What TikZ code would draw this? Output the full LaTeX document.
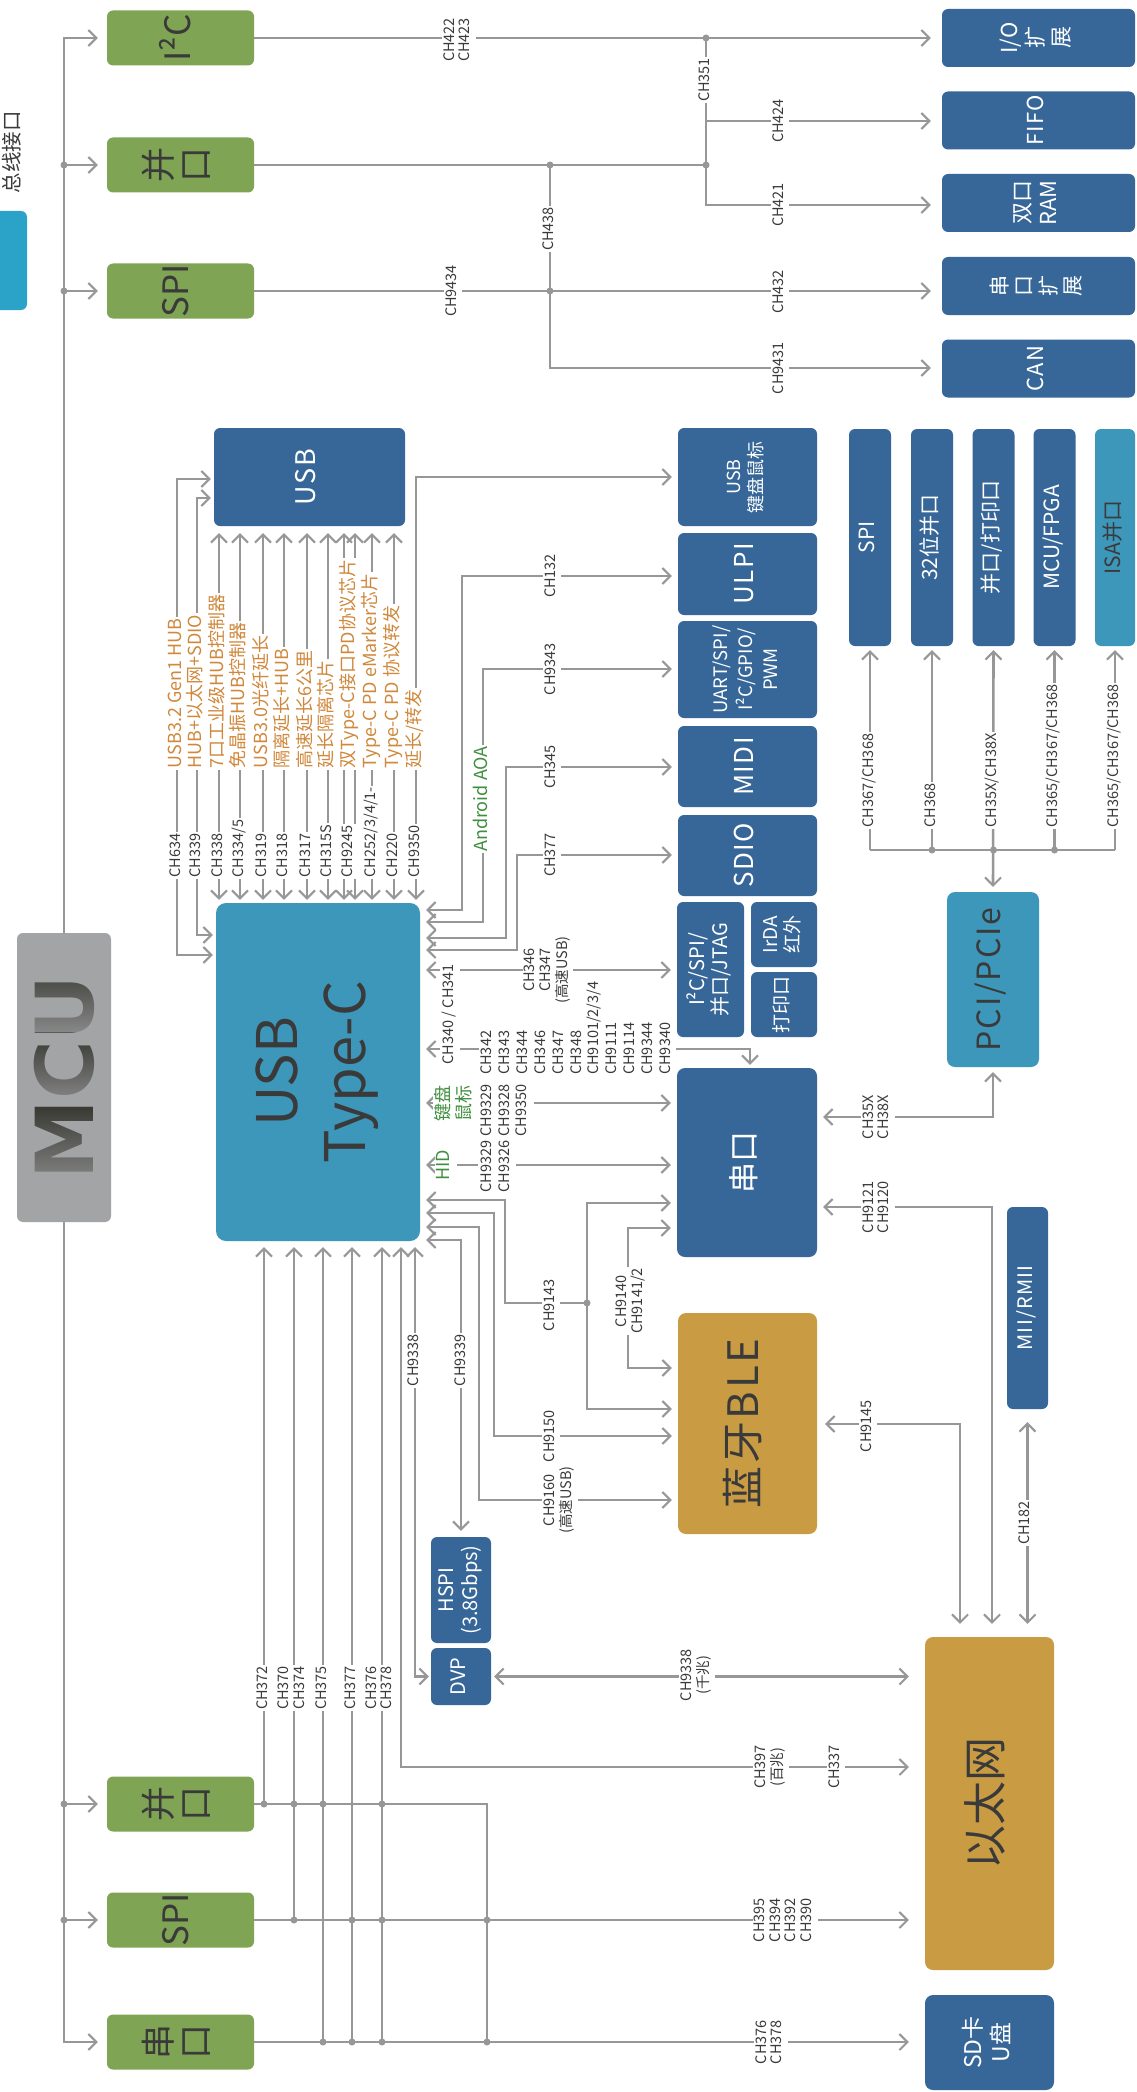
\documentclass[tikz,border=0pt]{standalone}
\usepackage{fontspec}
\setmainfont{Noto Sans CJK SC}
\newfontfamily\spc{Noto Sans CJK SC}[LetterSpace=6]
\newfontfamily\mcufont{DejaVu Sans Bold}
\usetikzlibrary{arrows.meta,backgrounds,fadings}

\definecolor{linegray}{HTML}{979797}
\definecolor{busgreen}{HTML}{7FA454}
\definecolor{chipblue}{HTML}{366798}
\definecolor{chipteal}{HTML}{3D97BA}
\definecolor{legendblue}{HTML}{2BA3C8}
\definecolor{chipgold}{HTML}{C99C44}
\definecolor{mcugray}{HTML}{A3A4A6}
\definecolor{mcutext}{HTML}{35352F}
\definecolor{darktext}{HTML}{3A3A3A}
\definecolor{hubtext}{HTML}{D0883C}
\definecolor{hidgreen}{HTML}{3F8F3F}

\newcommand\fs[2]{\fontsize{#1}{#2}\selectfont}
\newcommand\rt[1]{\rotatebox{90}{\begin{tabular}{@{}c@{}}#1\end{tabular}}}
\newcommand\rtl[1]{\rotatebox{90}{\begin{tabular}{@{}l@{}}#1\end{tabular}}}

\tikzset{
  barb/.tip={Straight Barb[length=8pt,width=16pt,line width=2pt]},
  ln/.style={draw=linegray, line width=2.6pt},
  ar/.style={ln, -barb, shorten >=6pt},
  dar/.style={ln, barb-barb, shorten >=6pt, shorten <=6pt},
  ra/.style={ln, barb-, shorten <=6pt},
  junc/.style={circle, fill=linegray, inner sep=0pt, minimum size=7pt},
  chip/.style={rounded corners=6pt, inner sep=0pt},
  bluechip/.style={chip, fill=chipblue, text=white},
  tealchip/.style={chip, fill=chipteal, text=darktext},
  goldchip/.style={chip, fill=chipgold, text=darktext},
  gbox/.style={chip, fill=busgreen, text=darktext, font=\fs{35}{37}, minimum width=147pt, minimum height=55pt},
  rbox/.style={bluechip, minimum width=193pt, minimum height=58pt},
  cbox/.style={bluechip, minimum width=139pt},
  tall/.style={bluechip, minimum width=42pt, minimum height=217pt, font=\fs{21}{23}},
  lbl/.style={fill=white, inner sep=1.5pt, text=darktext, font=\fs{14.5}{15.5}},
  hub/.style={fill=white, inner sep=1.5pt, text=hubtext, font=\fs{18}{20}},
  aoa/.style={fill=white, inner sep=1.5pt, text=hidgreen, font=\fs{18}{19}}
}

\begin{document}
\begin{tikzpicture}[x=1pt,y=-1pt]
\useasboundingbox (0,0) rectangle (1136,2092);

% Legende
\node[chip, fill=legendblue, minimum width=36pt, minimum height=99pt] (legend) at (9,260.5) {};
\node[text=darktext, inner sep=0pt, font=\fs{20.5}{22}] (legendtxt) at (14,152.5) {\rt{总线接口}};

% MCU und Busschnittstellen
\node[chip, fill=mcugray, minimum width=94pt, minimum height=289pt, text=mcutext, font=\mcufont\fs{80}{80}] (mcu) at (64,1077.5) {\rotatebox{90}{MCU}};
\foreach \ya/\yb in {960/1032, 1032/1102, 1102/1184}
  \fill[mcugray, opacity=0.75, path fading=north] (26,\ya) rectangle (102,\yb);
\node[gbox] (i2c) at (180.5,38) {\rt{I²C}};
\node[gbox] (par1) at (180.5,165) {\rt{并\\口}};
\node[gbox] (spi1) at (180.5,291) {\rt{SPI}};
\node[gbox] (par2) at (180.5,1804) {\rt{并\\口}};
\node[gbox] (spi2) at (180.5,1920) {\rt{SPI}};
\node[gbox] (uart2) at (180.5,2042) {\rt{串\\口}};

% Erweiterungen oben rechts
\node[rbox, font=\fs{22}{26}] (io) at (1038.5,38) {\rt{I/O\\扩\\展}};
\node[rbox, font=\spc\fs{22}{24}] (fifo) at (1038.5,120.5) {\rt{FIFO}};
\node[rbox, font=\fs{22}{26}] (ram) at (1038.5,203) {\rt{双口\\RAM}};
\node[rbox, font=\fs{21}{24}] (uex) at (1038.5,286) {\rt{串\\口\\扩\\展}};
\node[rbox, font=\spc\fs{22}{24}] (can) at (1038.5,368.5) {\rt{CAN}};

% USB
\node[bluechip, minimum width=191pt, minimum height=98pt, font=\spc\fs{27}{29}] (usb) at (309.5,477) {\rt{USB}};
\node[tealchip, rounded corners=10pt, minimum width=204pt, minimum height=338pt, font=\fs{56}{68}] (tc) at (318,1072) {\rt{USB\\Type-C}};

% rechte Spalte
\node[cbox, minimum height=98pt, font=\fs{18}{22}] (kbd) at (747.5,477) {\rt{USB\\键盘鼠标}};
\node[cbox, minimum height=82pt, font=\spc\fs{26}{28}] (ulpi) at (747.5,574) {\rt{ULPI}};
\node[cbox, minimum height=97pt, font=\fs{18.5}{25}] (uart) at (747.5,669.5) {\rt{UART/SPI/\\I²C/GPIO/\\PWM}};
\node[cbox, minimum height=81pt, font=\spc\fs{26}{28}] (midi) at (747.5,766.5) {\rt{MIDI}};
\node[cbox, minimum height=81pt, font=\spc\fs{26}{28}] (sdio) at (747.5,855.5) {\rt{SDIO}};
\node[bluechip, minimum width=67pt, minimum height=135pt, font=\fs{20}{22}] (i2cb) at (710.5,969.5) {\rt{I²C/SPI/\\并口/JTAG}};
\node[bluechip, minimum width=66pt, minimum height=65pt, font=\fs{19}{22}] (irda) at (784,934.5) {\rt{IrDA\\红外}};
\node[bluechip, minimum width=66pt, minimum height=65pt, font=\fs{19}{22}] (prt) at (784,1004.5) {\rt{打印口}};
\node[bluechip, rounded corners=8pt, minimum width=140pt, minimum height=189pt, font=\fs{31}{33}] (serial) at (747,1162.5) {\rt{串口}};
\node[goldchip, rounded corners=8pt, minimum width=139pt, minimum height=221pt, font=\spc\fs{42}{44}] (ble) at (747.5,1423.5) {\rt{蓝牙BLE}};

% parallele Busse
\node[tall] (spib) at (870,537.5) {\rt{SPI}};
\node[tall] (par32) at (932,537.5) {\rt{32位并口}};
\node[tall] (lpt) at (993.5,537.5) {\rt{并口/打印口}};
\node[tall] (fpga) at (1054.5,537.5) {\rt{MCU/FPGA}};
\node[tall, tealchip, minimum width=40pt] (isa) at (1115,537.5) {\rt{ISA并口}};
\node[tealchip, rounded corners=8pt, minimum width=92pt, minimum height=175pt, font=\spc\fs{32}{34}] (pci) at (993,979.5) {\rt{PCI/PCIe}};
\node[bluechip, minimum width=41pt, minimum height=202pt, font=\spc\fs{20}{22}] (mii) at (1027.5,1308) {\rt{MII/RMII}};

% unten
\node[bluechip, minimum width=60pt, minimum height=106pt, font=\fs{20}{24}] (hspi) at (461,1590) {\rt{HSPI\\(3.8Gbps)}};
\node[bluechip, minimum width=60pt, minimum height=57pt, font=\fs{20}{22}] (dvp) at (461,1676.5) {\rt{DVP}};
\node[goldchip, rounded corners=8pt, minimum width=129pt, minimum height=333pt, font=\fs{44}{46}] (eth) at (989.5,1803.5) {\rt{以太网}};
\node[bluechip, rounded corners=8pt, minimum width=129pt, minimum height=95pt, font=\fs{23}{28}] (sd) at (989.5,2042.5) {\rt{SD卡\\U盘}};

\begin{scope}[on background layer]
\fill[white] (0,0) rectangle (1136,2092);
% Bus
\draw[ln, barb-barb, shorten <=9pt, shorten >=9pt] (i2c.west) -| (64,1000) |- (uart2.west);
\foreach \n in {par1,spi1,par2,spi2}
  \draw[ar, shorten >=9pt] (64,0 |- \n.west) -- (\n.west);
% oben
\draw[ar, shorten >=11pt] (i2c.east) -- (io.west |- i2c.east);
\draw[ar, shorten >=11pt] (706,38) |- (ram.west |- 0,205);
\draw[ar, shorten >=11pt] (706,121) -- (fifo.west |- 0,121);
\draw[ln] (par1.east) -- (706,165);
\draw[ar, shorten >=11pt] (spi1.east) -- (uex.west |- spi1.east);
\draw[ar, shorten >=11pt] (550,165) |- (can.west |- 0,368);
% Type-C links
\draw[dar, shorten <=3pt, shorten >=3pt] (tc.west |- 0,955) -| (177,479) -- (usb.west |- 0,479);
\draw[dar, shorten <=3pt, shorten >=3pt] (tc.west |- 0,935) -| (197,498) -- (usb.west |- 0,498);
% Type-C oben
\foreach \x in {219,240,263,284,307,328,344,355,372,394}
  \draw[dar, shorten <=3pt, shorten >=7pt] (tc.north -| \x,0) -- (usb.south -| \x,0);
\draw[dar, shorten <=3pt] (tc.north -| 416,0) |- (kbd.west);
% Type-C rechts
\draw[dar] (tc.east |- 0,910) -| (462,576) -- (ulpi.west |- 0,576);
\draw[dar] (tc.east |- 0,922) -| (483,669) -- (uart.west |- 0,669);
\draw[dar] (tc.east |- 0,938) -| (506,767) -- (midi.west |- 0,767);
\draw[dar] (tc.east |- 0,950) -| (517,855) -- (sdio.west |- 0,855);
\draw[dar] (tc.east |- 0,970) -- (i2cb.west |- 0,970);
\draw[dar, shorten >=3pt] (tc.east |- 0,1049) -| (serial.north -| 750,0);
\draw[dar] (tc.east |- 0,1103) -- (serial.west |- 0,1103);
\draw[dar] (tc.east |- 0,1165) -- (serial.west |- 0,1165);
\draw[ra] (tc.east |- 0,1200) -| (505,1303) -- (587,1303);
\draw[ar] (587,1303) |- (serial.west |- 0,1203);
\draw[ar] (587,1303) |- (ble.west |- 0,1409);
\draw[dar] (serial.west |- 0,1228) -| (628,1368) -- (ble.west |- 0,1368);
\draw[dar] (tc.east |- 0,1213) -| (494,1436) -- (ble.west |- 0,1436);
\draw[dar] (tc.east |- 0,1227) -| (479,1500) -- (ble.west |- 0,1500);
\draw[dar] (tc.east |- 0,1240) -| (hspi.north);
% Type-C unten
\draw[ra] (tc.south -| 264,0) -- (264,1804);
\draw[ra] (tc.south -| 294,0) -- (294,1920);
\draw[ra] (tc.south -| 323,0) -- (323,2042);
\draw[ra] (tc.south -| 352,0) -- (352,2042);
\draw[ra] (tc.south -| 382,0) -- (382,2042);
\draw[dar, shorten >=16pt] (tc.south -| 401,0) |- (eth.west |- 0,1767);
\draw[dar, shorten >=2pt] (tc.south -| 415,0) |- (dvp.west);
\draw[ln] (par2.east) -| (487,2042);
\draw[ar, shorten >=16pt] (spi2.east) -- (eth.west |- spi2.east);
\draw[ar, shorten >=16pt] (uart2.east) -- (sd.west |- uart2.east);
\draw[dar, shorten <=3pt, shorten >=16pt] (dvp.east) -- (eth.west |- dvp.east);
% rechts
\draw[dar, shorten <=8pt, shorten >=13pt] (ble.east |- 0,1424) -| (eth.north -| 960,0);
\draw[dar, shorten >=13pt] (serial.east |- 0,1207) -| (eth.north -| 992,0);
\draw[dar, shorten >=5pt] (serial.east |- 0,1117) -| (pci.south);
\draw[dar, shorten <=13pt, shorten >=13pt] (eth.north -| mii.south) -- (mii.south);
\draw[dar, shorten <=5pt, shorten >=4pt] (pci.north) -- (lpt.south);
\draw[ln] (spib.south |- 0,850) -- (isa.south |- 0,850);
\foreach \n in {spib,par32,fpga,isa}
  \draw[ar, shorten >=4pt] (\n.south |- 0,850) -- (\n.south);
\end{scope}

% Verzweigungen
\foreach \p [count=\i] in {(64,165),(64,291),(64,1804),(64,1920),(706,38),(706,165),(550,165),(550,291),
  (264,1804),(294,1804),(323,1804),(382,1804),(294,1920),(352,1920),(382,1920),(487,1920),
  (323,2042),(352,2042),(382,2042),(487,2042),(932,850),(993.5,850),(1054.5,850),(587,1303)}
  \node[junc] (j\i) at \p {};

% Beschriftungen oben
\node[lbl] (l422) at (459,40) {\rt{CH422\\CH423}};
\node[lbl] (l351) at (706,80) {\rt{CH351}};
\node[lbl] (l424) at (780,121) {\rt{CH424}};
\node[lbl] (l421) at (780,205) {\rt{CH421}};
\node[lbl] (l438) at (550,229) {\rt{CH438}};
\node[lbl] (l9434) at (453,291) {\rt{CH9434}};
\node[lbl] (l432) at (780,292) {\rt{CH432}};
\node[lbl] (l9431) at (780,368) {\rt{CH9431}};

% Beschriftungen USB
\foreach \x/\a/\b [count=\i] in {177/CH634/USB3.2 Gen1 HUB, 197/CH339/HUB+以太网+SDIO,
  219/CH338/7口工业级HUB控制器, 240/{CH334/5}/免晶振HUB控制器, 263/CH319/USB3.0光纤延长,
  284/CH318/隔离延长+HUB, 307/CH317/高速延长6公里, 328/CH315S/延长隔离芯片,
  349.5/CH9245/双Type-C接口PD协议芯片, 372/{CH252/3/4/1-}/Type-C PD eMarker芯片,
  394/CH220/Type-C PD 协议转发, 416/CH9350/{延长/转发}}
{
  \node[lbl, anchor=south] (ch\i) at (\x,879) {\rt{\a}};
  \node[hub, anchor=south] (hub\i) at (\x,770) {\rt{\b}};
}

% Beschriftungen Type-C rechts
\node[lbl] (l132) at (552,576) {\rt{CH132}};
\node[lbl] (l9343) at (552,669) {\rt{CH9343}};
\node[lbl] (l345) at (552,767) {\rt{CH345}};
\node[lbl] (l377) at (552,855) {\rt{CH377}};
\node[aoa] (aoa) at (483,799) {\rt{Android AOA}};
\node[lbl, anchor=south] (l340) at (450,1066) {\rt{CH340 / CH341}};
\node[lbl, anchor=south, inner sep=0pt, font=\fs{14.5}{17.9}] (lser) at (577.5,1075) {\rtl{CH342\\CH343\\CH344\\CH346\\CH347\\CH348\\CH9101/2/3/4\\CH9111\\CH9114\\CH9344\\CH9340}};
\node[lbl] (l346) at (548,970) {\rt{CH346\\CH347\\(高速USB)}};
\node[lbl, anchor=south, font=\fs{14.5}{17.9}] (lkbd) at (505.5,1138) {\rtl{CH9329\\CH9328\\CH9350}};
\node[lbl, anchor=south, font=\fs{14.5}{17.9}] (lhid) at (497,1194) {\rtl{CH9329\\CH9326}};
\node[aoa] (kbdtxt) at (455,1103) {\rt{键盘\\鼠标}};
\node[aoa] (hid) at (446,1165) {\rt{HID}};
\node[lbl] (l9143) at (551,1305) {\rt{CH9143}};
\node[lbl] (l9140) at (631,1301) {\rt{CH9140\\CH9141/2}};
\node[lbl] (l9150) at (551,1436) {\rt{CH9150}};
\node[lbl] (l9160) at (560,1500) {\rt{CH9160\\(高速USB)}};
\node[lbl] (l9338) at (415,1360) {\rt{CH9338}};
\node[lbl] (l9339) at (462,1360) {\rt{CH9339}};

% Beschriftungen unten
\node[lbl] (l372) at (264,1688) {\rt{CH372}};
\node[lbl] (l370) at (293.5,1688) {\rt{CH370\\CH374}};
\node[lbl] (l375) at (323,1688) {\rt{CH375}};
\node[lbl] (l377b) at (352,1688) {\rt{CH377}};
\node[lbl] (l376) at (381,1688) {\rt{CH376\\CH378}};
\node[lbl] (lgbit) at (697,1675) {\rt{CH9338\\(千兆)}};
\node[lbl] (l397) at (771,1767) {\rt{CH397\\(百兆)}};
\node[lbl] (l337) at (836,1767) {\rt{CH337}};
\node[lbl] (l395) at (785,1920) {\rt{CH395\\CH394\\CH392\\CH390}};
\node[lbl] (l376b) at (771,2042) {\rt{CH376\\CH378}};

% Beschriftungen rechts
\node[lbl] (l9145) at (868,1426) {\rt{CH9145}};
\node[lbl] (l9121) at (878,1207) {\rt{CH9121\\CH9120}};
\node[lbl] (l35x) at (878,1117) {\rt{CH35X\\CH38X}};
\node[lbl] (l182) at (1026,1523) {\rt{CH182}};
\foreach \x/\t [count=\i] in {870/{CH367/CH368}, 932/CH368, 993.5/{CH35X/CH38X}, 1054.5/{CH365/CH367/CH368}, 1115/{CH365/CH367/CH368}}
  \node[lbl, anchor=south] (lp\i) at (\x,829) {\rt{\t}};
\end{tikzpicture}
\end{document}
